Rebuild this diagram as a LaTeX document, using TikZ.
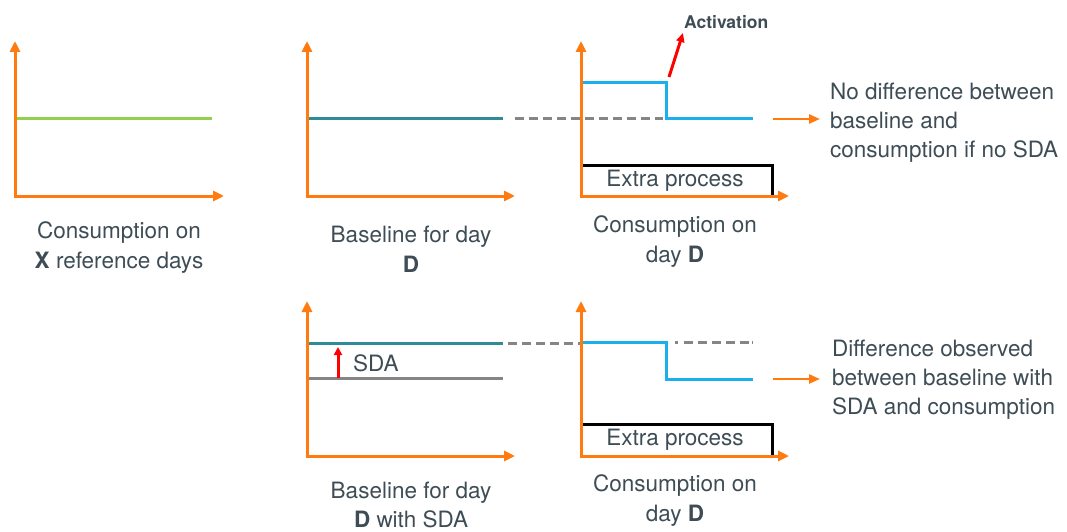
\documentclass[tikz,border=0pt]{standalone}
\usepackage{fontspec}
\setmainfont{TeX Gyre Heros}
\usetikzlibrary{arrows.meta}
\definecolor{axisor}{HTML}{FF7B0F}
\definecolor{lgreen}{HTML}{92D050}
\definecolor{teal2}{HTML}{2E8B98}
\definecolor{cyan2}{HTML}{1AB0EC}
\definecolor{gray2}{HTML}{858585}
\definecolor{txt}{HTML}{3E4D55}
\begin{document}
\begin{tikzpicture}[x=1pt,y=-1pt,
  axis/.style={draw=axisor,line width=3pt,-{Triangle[length=11pt,width=10pt]}},
  outarrow/.style={draw=axisor,line width=2.5pt,-{Triangle[length=11pt,width=9pt]}},
  curve/.style={line width=3pt},
  graydash/.style={draw=gray2,line width=3pt,dash pattern=on 9pt off 5pt},
  lbl/.style={text=txt,font=\fontsize{22.5}{30}\selectfont,align=center,inner sep=0pt},
  rlbl/.style={text=txt,font=\fontsize{22.5}{29}\selectfont,align=left,inner sep=0pt,anchor=west},
  boxlbl/.style={text=txt,font=\fontsize{22.5}{26}\selectfont,inner sep=0pt}]
\useasboundingbox (0,0) rectangle (1067,532);
% ---------- panel 1
\coordinate (o1) at (15,196);
\coordinate (y1) at (15,41);
\coordinate (x1) at (224,196);
\coordinate (g1a) at (15,119);
\coordinate (g1b) at (212,119);
\draw[curve,draw=lgreen] (g1a) -- (g1b);
\draw[axis] ([yshift=1.5pt]o1) -- (y1);
\draw[axis] ([xshift=-1.5pt]o1) -- (x1);
\node[lbl] (t1) at (119,248) {Consumption on\\\textbf{X} reference days};
% ---------- panel 2
\coordinate (o2) at (307,196);
\coordinate (y2) at (307,41);
\coordinate (x2) at (515,196);
\coordinate (b2a) at (307,119);
\coordinate (b2b) at (503,119);
\coordinate (d2a) at (515,119);
\coordinate (d2b) at (663,119);
\draw[curve,draw=teal2] (b2a) -- (b2b);
\draw[graydash] (d2a) -- (d2b);
\draw[axis] ([yshift=1.5pt]o2) -- (y2);
\draw[axis] ([xshift=-1.5pt]o2) -- (x2);
\node[lbl] (t2) at (411,249) {Baseline for day\\\textbf{D}};
% ---------- panel 3
\coordinate (o3) at (581,196);
\coordinate (y3) at (581,41);
\coordinate (x3) at (789,196);
\coordinate (c3a) at (581,83);
\coordinate (c3b) at (666,83);
\coordinate (c3c) at (666,119);
\coordinate (c3d) at (753,119);
\coordinate (e3a) at (581,165);
\coordinate (e3b) at (772,165);
\coordinate (e3c) at (772,196);
\draw[curve,draw=cyan2] (c3a) -- (c3b) -- (c3c) -- (c3d);
\draw[curve,draw=black] (e3a) -- (e3b) -- (e3c);
\node[boxlbl] (ep3) at (675,181) {Extra process};
\draw[axis] ([yshift=1.5pt]o3) -- (y3);
\draw[axis] ([xshift=-1.5pt]o3) -- (x3);
\coordinate (act0) at (669,77);
\node[text=txt,font=\fontsize{17.5}{19}\selectfont\bfseries,inner sep=0pt,anchor=west] (act) at (684,22) {Activation};
\coordinate (act1) at (683,33);
\draw[draw=red,line width=3pt,-{Triangle[length=9pt,width=8pt]}] (act0) -- (act1);
\node[lbl] (t3) at (675,242) {Consumption on\\day \textbf{D}};
\coordinate (r3a) at (773,119);
\coordinate (r3b) at (820,119);
\draw[outarrow] (r3a) -- (r3b);
\node[rlbl] (n3) at (830,123) {No difference between\\baseline and\\consumption if no SDA};
% ---------- panel 4
\coordinate (o4) at (307,456);
\coordinate (y4) at (307,301);
\coordinate (x4) at (515,456);
\coordinate (b4a) at (307,343);
\coordinate (b4b) at (503,343);
\coordinate (g4a) at (307,378);
\coordinate (g4b) at (503,378);
\coordinate (d4a) at (508,343);
\coordinate (d4b) at (581,343);
\draw[curve,draw=teal2] (b4a) -- (b4b);
\draw[curve,draw=gray2] (g4a) -- (g4b);
\draw[graydash] (d4a) -- (d4b);
\coordinate (s4a) at (338,378);
\coordinate (s4b) at (338,347);
\draw[draw=red,line width=3pt,-{Triangle[length=8pt,width=8pt]}] (s4a) -- (s4b);
\node[boxlbl,anchor=west] (sda) at (353,363) {SDA};
\draw[axis] ([yshift=1.5pt]o4) -- (y4);
\draw[axis] ([xshift=-1.5pt]o4) -- (x4);
\node[lbl,font=\fontsize{22.5}{29}\selectfont] (t4) at (411,505) {Baseline for day\\\textbf{D} with SDA};
% ---------- panel 5
\coordinate (o5) at (581,456);
\coordinate (y5) at (581,301);
\coordinate (x5) at (789,456);
\coordinate (c5a) at (581,342);
\coordinate (c5b) at (666,342);
\coordinate (c5c) at (666,379);
\coordinate (c5d) at (753,379);
\coordinate (d5a) at (675,342);
\coordinate (d5b) at (753,342);
\coordinate (e5a) at (581,424);
\coordinate (e5b) at (772,424);
\coordinate (e5c) at (772,456);
\draw[curve,draw=cyan2] (c5a) -- (c5b) -- (c5c) -- (c5d);
\draw[draw=gray2,line width=3pt,dash pattern=on 3pt off 6pt on 9pt off 5pt on 9pt off 5pt on 9pt off 5pt on 9pt off 5pt on 9pt] (d5a) -- (d5b);
\draw[curve,draw=black] (e5a) -- (e5b) -- (e5c);
\node[boxlbl] (ep5) at (675,440) {Extra process};
\draw[axis] ([yshift=1.5pt]o5) -- (y5);
\draw[axis] ([xshift=-1.5pt]o5) -- (x5);
\node[lbl] (t5) at (675,501) {Consumption on\\day \textbf{D}};
\coordinate (r5a) at (773,379);
\coordinate (r5b) at (820,379);
\draw[outarrow] (r5a) -- (r5b);
\node[rlbl] (n5) at (832,380) {Difference observed\\between baseline with\\SDA and consumption};
\end{tikzpicture}
\end{document}
